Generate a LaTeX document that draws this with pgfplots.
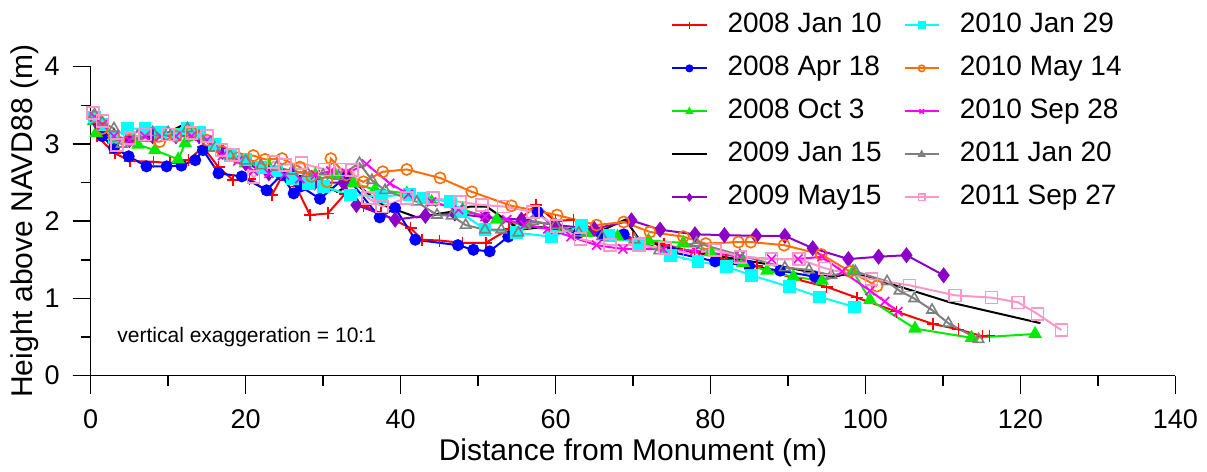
\documentclass[border=0pt]{standalone}
\usepackage{pgfplots}
\pgfplotsset{compat=1.18}
\usepackage{fontspec}
\setmainfont{Liberation Sans}
\definecolor{cred}{RGB}{255,0,0}
\definecolor{cblue}{RGB}{0,0,255}
\definecolor{cgreen}{RGB}{0,235,0}
\definecolor{cpurple}{RGB}{140,0,200}
\definecolor{ccyan}{RGB}{0,255,255}
\definecolor{corange}{RGB}{255,110,0}
\definecolor{cmagenta}{RGB}{255,0,255}
\definecolor{cgray}{RGB}{128,128,128}
\definecolor{cpink}{RGB}{255,150,200}
\begin{document}
\begin{tikzpicture}
\begin{axis}[
  at={(0pt,0pt)}, anchor=south west,
  scale only axis, width=542.3pt, height=154.5pt,
  xmin=0, xmax=140, ymin=0, ymax=4,
  axis x line*=bottom, axis y line*=left,
  xtick={0,20,...,140}, ytick={0,1,2,3,4},
  minor x tick num=1, minor y tick num=1,
  tick align=outside, major tick length=9pt, minor tick length=5pt,
  tick style={black, line width=0.75pt},
  axis line style={line width=0.75pt},
  ticklabel style={font=\fontsize{13.5}{16}\selectfont},
  xticklabel style={yshift=-4.5pt},
  yticklabel style={xshift=-3pt},
  /pgf/number format/assume math mode=true,
  xlabel={Distance from Monument (m)},
  ylabel={Height above NAVD88 (m)},
  label style={font=\fontsize{15}{18}\selectfont},
  xlabel style={at={(axis description cs:0.5,-0.249)}, anchor=center},
  ylabel style={at={(axis description cs:-0.0609,0.5)}, anchor=center},
  clip=false,
  legend columns=5, transpose legend,
  legend cell align=left,
  legend style={at={(axis description cs:0.535,1.19)}, anchor=north west,
    draw=none, fill=none, inner sep=0pt, row sep=4.5pt, column sep=8pt,
    font=\fontsize{14}{16}\selectfont,
    nodes={inner sep=2pt, text height=10pt, text depth=3pt},
    /tikz/every even column/.append style={column sep=9pt}},
  legend image post style={mark size=1.6pt},
  every axis plot/.append style={line width=1pt, mark options={solid, line width=0.8pt}},
]
% 2008 Jan 10
\addplot[color=cred, mark=+, mark size=3pt] coordinates {
(0.4,3.35)(0.8,3.1)(3.1,2.88)(5.1,2.78)(8.1,2.77)(10.2,2.75)(12.6,2.79)(14.5,2.96)(16.5,2.7)(18.4,2.53)(20.5,2.55)(23.4,2.34)(24.8,2.6)(26.5,2.45)(28.3,2.08)(30.6,2.10)(32.8,2.35)(35.2,2.2)(37.5,2.1)(41.3,1.91)(42.8,1.76)(45,1.75)(48,1.72)(51,1.72)(54,1.90)(57.5,2.21)(60,2.0)(62.3,2.02)(66,1.85)(70,1.78)(74,1.7)(78,1.6)(82,1.5)(86,1.42)(91,1.25)(95,1.15)(98.9,1.01)(104,0.83)(108.7,0.67)(112,0.6)(115.1,0.51)(116,0.52)};
\addlegendentry{2008 Jan 10}
% 2008 Apr 18
\addplot[color=cblue, mark=*, mark size=2.6pt] coordinates {
(0.4,3.32)(1.5,3.1)(3,2.95)(4.9,2.84)(7.2,2.71)(9.8,2.71)(11.7,2.72)(13.5,2.79)(14.5,2.92)(16.5,2.62)(19.5,2.58)(22.7,2.40)(24.6,2.60)(26.2,2.36)(27.1,2.45)(29.6,2.29)(33,2.58)(37.3,2.05)(39.3,2.17)(41.9,1.76)(47.4,1.69)(49.4,1.63)(51.5,1.61)(53.9,1.80)(57.7,2.12)(60,1.9)(63,1.85)(66,1.82)(68.8,1.83)(71,1.72)(75,1.6)(80.6,1.48)(85,1.42)(89,1.36)(93.5,1.28)};
\addlegendentry{2008 Apr 18}
% 2008 Oct 3
\addplot[color=cgreen, mark=triangle*, mark size=3.2pt] coordinates {
(0.4,3.3)(0.7,3.14)(3,3.05)(6.1,2.99)(8.3,2.92)(11.3,2.80)(12.2,3.01)(14,3.1)(16,2.95)(18,2.85)(20,2.75)(23,2.7)(26,2.65)(29,2.6)(31.5,2.6)(33.9,2.49)(36.7,2.41)(40.8,2.36)(44,2.25)(48,2.15)(52.4,2.02)(56,1.95)(60,1.9)(64,1.85)(68,1.8)(72,1.75)(76.5,1.72)(80,1.6)(84.2,1.46)(87.3,1.36)(90.7,1.28)(94.4,1.23)(98.4,1.35)(100.6,0.98)(106.4,0.61)(113.7,0.49)(121.9,0.54)};
\addlegendentry{2008 Oct 3}
% 2009 Jan 15
\addplot[color=black, no marks] coordinates {
(0.4,3.35)(2,3.2)(4,3.0)(6,3.1)(9,3.1)(12.2,3.26)(14,3.1)(17,2.9)(20,2.8)(23.1,2.66)(26,2.6)(29,2.55)(31.8,2.38)(34,2.5)(37.7,2.21)(42.1,2.05)(46.4,2.12)(49,2.19)(51.1,2.19)(55.4,1.89)(58,1.92)(62,1.9)(66,1.88)(69,2.02)(70.7,1.78)(73.9,1.67)(78,1.6)(84,1.5)(90,1.4)(95.8,1.28)(98.4,1.33)(104.5,1.15)(110.9,0.95)(117.4,0.80)(122.6,0.68)};
\addlegendentry{2009 Jan 15}
% 2009 May15
\addplot[color=cpurple, mark=diamond*, mark size=3.4pt] coordinates {
(0.4,3.35)(1,3.25)(3,3.1)(5,3.05)(8,3.1)(11,3.1)(14,3.1)(17,2.9)(20,2.75)(23,2.62)(26,2.6)(28.9,2.5)(32.6,2.5)(34.3,2.21)(39.3,2.02)(43.2,2.07)(47,2.1)(51,2.05)(55.6,2.02)(60,1.95)(65,1.9)(69.8,2.01)(73.5,1.89)(78,1.83)(81.8,1.82)(85.9,1.81)(89.6,1.81)(93.2,1.65)(97.8,1.51)(101.7,1.54)(105.3,1.56)(110.1,1.30)};
\addlegendentry{2009 May15}
% 2010 Jan 29
\addplot[color=ccyan, mark=square*, mark size=2.8pt] coordinates {
(0.5,3.35)(1.5,3.25)(3,3.1)(4.8,3.2)(7,3.2)(9,3.15)(11,3.12)(12.5,3.2)(14,3.15)(16,3.0)(18,2.85)(20,2.8)(22,2.7)(24,2.65)(26,2.55)(28.1,2.49)(30,2.45)(33.5,2.34)(37.5,2.32)(41.2,2.35)(43,2.3)(46.4,2.25)(47.7,2.12)(50.9,1.89)(55,1.85)(59.5,1.80)(63.4,1.94)(66.9,1.81)(70.9,1.71)(74.8,1.56)(78.4,1.48)(82.1,1.41)(85.3,1.30)(90.2,1.15)(94.1,1.02)(98.6,0.89)};
\addlegendentry{2010 Jan 29}
% 2010 May 14
\addplot[color=corange, mark=o, mark size=2.8pt] coordinates {
(0.5,3.35)(1.5,3.2)(3,3.1)(5,3.05)(8.9,3.03)(11,3.1)(13,3.15)(15,3.05)(17,2.9)(19,2.82)(21,2.85)(22.5,2.8)(24.7,2.81)(27,2.7)(28.5,2.58)(30.5,2.51)(31,2.81)(33,2.6)(35.2,2.51)(37.7,2.64)(40.8,2.67)(45.1,2.56)(49.2,2.38)(54.3,2.20)(60.2,2.08)(65.3,1.95)(68.8,1.99)(72.2,1.86)(76.5,1.80)(79.4,1.71)(83.6,1.73)(85.2,1.73)(89.5,1.69)(94.3,1.57)(98,1.35)(101.5,1.16)};
\addlegendentry{2010 May 14}
% 2010 Sep 28
\addplot[color=cmagenta, mark=x, mark size=3.2pt] coordinates {
(0.5,3.35)(1.5,3.25)(3,3.1)(5,3.05)(7,3.1)(9,3.1)(11,3.1)(13,3.1)(15,3.05)(17,2.85)(19,2.78)(21,2.65)(23,2.62)(25,2.6)(27,2.55)(29,2.6)(31,2.65)(33,2.62)(35.6,2.74)(38.6,2.49)(41,2.35)(44,2.25)(47.5,2.15)(50.9,2.06)(53.7,2.02)(56,1.95)(59,1.9)(62,1.8)(65.3,1.69)(68.7,1.64)(73.9,1.64)(78,1.62)(83.8,1.54)(87.9,1.51)(91.3,1.51)(94.4,1.54)(97,1.35)(100.6,1.10)(102.5,0.96)(104.2,0.83)};
\addlegendentry{2010 Sep 28}
% 2011 Jan 20
\addplot[color=cgray, mark=triangle, mark size=3pt] coordinates {
(0.5,3.38)(1.5,3.28)(3,3.2)(4,3.0)(6,3.1)(8,3.15)(10,3.15)(12.5,3.2)(14,3.1)(16,2.95)(18,2.85)(20,2.78)(22,2.72)(24,2.7)(26,2.65)(28,2.62)(30,2.6)(32,2.58)(34.7,2.75)(36.3,2.53)(38,2.40)(42.1,2.25)(44.7,2.08)(46.6,2.07)(48.4,1.95)(50.9,1.89)(53,1.89)(55.2,1.85)(57.1,2.0)(60,1.95)(63,1.85)(66,1.8)(70.2,1.76)(73.4,1.62)(78.2,1.72)(83.8,1.56)(89.6,1.40)(92.7,1.37)(95.6,1.30)(98.7,1.35)(102.8,1.22)(104.4,1.10)(106.3,1.00)(108.6,0.85)(110.7,0.68)(114.6,0.47)};
\addlegendentry{2011 Jan 20}
% 2011 Sep 27
\addplot[color=cpink, mark=square, mark size=3pt] coordinates {
(0.3,3.40)(1.5,3.3)(3.4,2.99)(5,3.08)(7,3.12)(10,3.12)(13,3.14)(15,3.1)(16.9,2.92)(18.4,2.86)(21,2.57)(23.6,2.77)(25.1,2.73)(27.2,2.75)(30.2,2.67)(32.2,2.67)(33.7,2.66)(35.8,2.30)(37.6,2.19)(40.8,2.30)(44.2,2.30)(47.7,2.25)(50.5,2.21)(53.3,2.19)(57.1,2.12)(60.1,1.94)(63.2,1.77)(67,1.69)(70.8,1.69)(74.1,1.65)(77.3,1.58)(80.6,1.63)(83.9,1.54)(87.9,1.51)(91.4,1.51)(94.8,1.39)(100.8,1.25)(105.7,1.17)(111.6,1.04)(116.3,1.01)(119.7,0.95)(122.2,0.80)(125.3,0.59)};
\addlegendentry{2011 Sep 27}
\node[anchor=west, inner sep=0pt, font=\fontsize{10.5}{12}\selectfont] at (axis cs:3.4,0.5) {vertical exaggeration = 10:1};
\end{axis}
\pgfresetboundingbox
\path[use as bounding box] (-45.35pt,-48.15pt) rectangle (558.15pt,187.85pt);
\end{tikzpicture}
\end{document}
